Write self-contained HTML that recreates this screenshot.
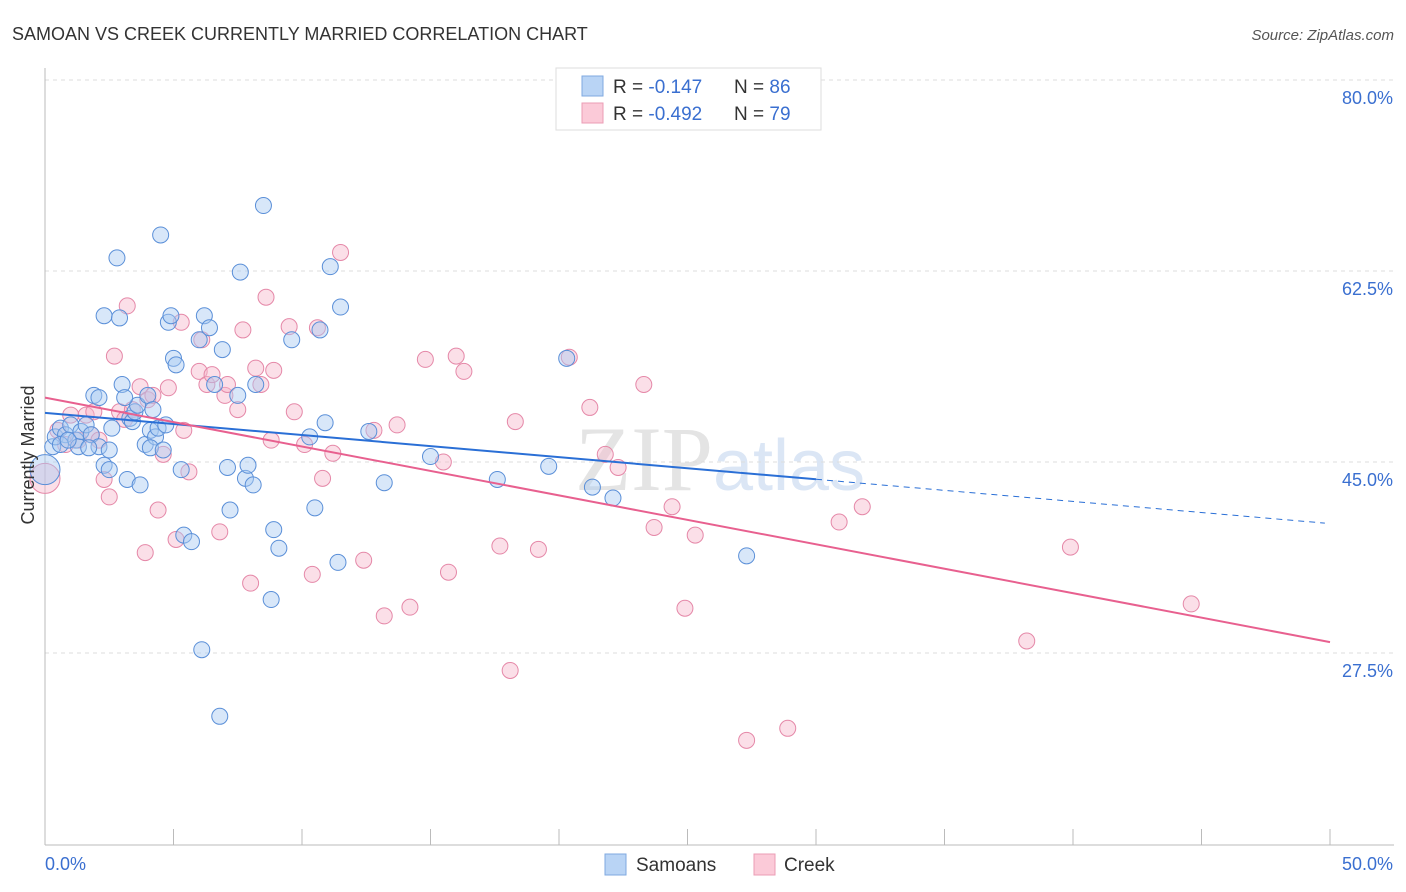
<!DOCTYPE html>
<html><head><meta charset="utf-8"><style>
body{margin:0;background:#fff;font-family:"Liberation Sans",sans-serif;}
svg{display:block}
</style></head><body>
<svg id="chart" width="1406" height="892">
<text x="12" y="40" font-size="18" fill="#333">SAMOAN VS CREEK CURRENTLY MARRIED CORRELATION CHART</text>
<text x="1394" y="40" font-size="15" fill="#555" font-style="italic" text-anchor="end">Source: ZipAtlas.com</text>
<text x="720" y="490" font-size="92" fill="#e4e4e4" text-anchor="middle" font-family="Liberation Serif">ZIP<tspan fill="#dbe6f5" font-family="Liberation Sans" font-size="72">atlas</tspan></text>
<g id="grid"></g><g id="axes"></g><g id="points"></g><g id="trends"></g>
<text transform="translate(34,455) rotate(-90)" font-size="18" fill="#333" text-anchor="middle">Currently Married</text>
<g>
<rect x="556" y="68" width="265" height="62" fill="#fff" stroke="#ddd"/>
<rect x="582" y="76" width="21" height="20" fill="#b9d4f5" stroke="#7fa9e0"/>
<rect x="582" y="103" width="21" height="20" fill="#fbcad8" stroke="#eb9cb5"/>
<text x="613" y="93" font-size="19" fill="#333">R = <tspan fill="#3a6fd0"> -0.147</tspan></text>
<text x="734" y="93" font-size="19" fill="#333">N = <tspan fill="#3a6fd0">86</tspan></text>
<text x="613" y="120" font-size="19" fill="#333">R = <tspan fill="#3a6fd0">-0.492</tspan></text>
<text x="734" y="120" font-size="19" fill="#333">N = <tspan fill="#3a6fd0">79</tspan></text>
</g>
<g>
<rect x="605" y="854" width="21" height="21" fill="#b9d4f5" stroke="#7fa9e0"/>
<text x="636" y="871" font-size="19" fill="#333">Samoans</text>
<rect x="754" y="854" width="21" height="21" fill="#fbcad8" stroke="#eb9cb5"/>
<text x="784" y="871" font-size="19" fill="#333">Creek</text>
</g>
</svg>
<script>
const yTicks=[80,62.5,45,27.5];
const yTickLabels=["80.0%","62.5%","45.0%","27.5%"];
const xTicks=[0,5,10,15,20,25,30,35,40,45,50];
const samoansX=[0.3,0.4,0.6,0.8,1.0,1.2,1.3,1.4,1.6,1.8,1.9,2.1,2.1,2.3,2.3,2.5,2.6,2.8,2.9,3.0,3.2,3.3,3.4,3.5,3.6,3.7,3.9,4.0,4.1,4.2,4.3,4.4,4.5,4.7,4.8,4.9,5.0,5.1,5.3,5.4,5.7,6.0,6.1,6.2,6.4,6.6,6.8,6.9,7.1,7.2,7.5,7.6,7.8,7.9,8.1,8.2,8.5,8.8,8.9,9.1,9.6,10.3,10.5,10.7,10.9,11.1,11.4,11.5,12.6,13.2,15.0,17.6,19.6,20.3,21.3,22.1,27.3,0.0,0.6,0.9,1.7,2.5,3.1,4.1,4.6];
const samoansY=[46.4,47.3,48.1,47.5,48.4,47.0,46.4,47.8,48.4,47.5,51.1,50.9,46.4,44.7,58.4,44.3,48.1,63.7,58.2,52.1,43.4,49.0,48.7,49.6,50.2,42.9,46.6,51.1,47.9,49.8,47.3,48.1,65.8,48.4,57.8,58.4,54.5,53.9,44.3,38.3,37.7,56.2,27.8,58.4,57.3,52.1,21.7,55.3,44.5,40.6,51.1,62.4,43.5,44.7,42.9,52.1,68.5,32.4,38.8,37.1,56.2,47.3,40.8,57.1,48.6,62.9,35.8,59.2,47.8,43.1,45.5,43.4,44.6,54.5,42.7,41.7,36.4,44.3,46.6,47.0,46.3,46.1,50.9,46.3,46.1];
const creekX=[0.0,0.5,0.8,1.0,1.3,1.6,1.8,1.9,2.1,2.3,2.5,2.7,2.9,3.1,3.2,3.4,3.7,3.9,4.0,4.2,4.4,4.6,4.8,5.1,5.3,5.4,5.6,6.0,6.1,6.3,6.5,6.8,7.0,7.1,7.5,7.7,8.0,8.2,8.4,8.6,8.8,8.9,9.5,9.7,10.1,10.4,10.6,10.8,11.2,11.5,12.4,12.8,13.2,13.7,14.2,14.8,15.5,15.7,16.0,16.3,17.7,18.1,18.3,19.2,20.4,21.2,21.8,22.3,23.3,23.7,24.4,24.9,25.3,27.3,28.9,30.9,31.8,38.2,39.9,44.6];
const creekY=[43.5,47.9,46.6,49.3,47.0,49.3,47.5,49.6,47.0,43.4,41.8,54.7,49.6,48.9,59.3,49.8,51.9,36.7,50.7,51.1,40.6,45.7,51.8,37.9,57.8,47.9,44.1,53.3,56.2,52.1,53.0,38.6,51.1,52.1,49.8,57.1,33.9,53.6,52.1,60.1,47.0,53.4,57.4,49.6,46.6,34.7,57.3,43.5,45.8,64.2,36.0,47.9,30.9,48.4,31.7,54.4,45.0,34.9,54.7,53.3,37.3,25.9,48.7,37.0,54.6,50.0,45.7,44.5,52.1,39.0,40.9,31.6,38.3,19.5,20.6,39.5,40.9,28.6,37.2,32.0];
const samoansTrend=[49.5,39.4]; // at x=0 and x=49.8
const creekTrend=[50.9,28.5];   // at x=0 and x=50
const NS="http://www.w3.org/2000/svg";
const X0=45,X1=1330,YTOP=80,YBOT=845;
function sx(v){return X0+(v/50)*(X1-X0);}
function sy(v){return 80+(80-v)*(191/17.5);}
function mk(tag,attrs,parent){const e=document.createElementNS(NS,tag);for(const k in attrs)e.setAttribute(k,attrs[k]);document.getElementById(parent).appendChild(e);return e;}
yTicks.forEach((t,i)=>{
 const l=mk('line',{x1:X0,x2:1394,y1:sy(t),y2:sy(t),stroke:'#ddd','stroke-dasharray':'4,4'},'grid');
 
 
 const tx=mk('text',{x:1393,y:sy(t)+24,'font-size':18,fill:'#3a6fd0','text-anchor':'end'},'grid');
 tx.textContent=yTickLabels[i];
 
 
});
const ya=mk('line',{x1:X0,x2:X0,y1:68,y2:YBOT,stroke:'#bbb'},'axes');


const xa=mk('line',{x1:X0,x2:1394,y1:YBOT,y2:YBOT,stroke:'#bbb'},'axes');


xTicks.forEach(t=>{
 const l=mk('line',{x1:sx(t),x2:sx(t),y1:YBOT,y2:YBOT-16,stroke:'#bbb'},'axes');
 
 
});
const xl0=mk('text',{x:45,y:870,'font-size':18,fill:'#3a6fd0'},'axes');xl0.textContent='0.0%';


const xl1=mk('text',{x:1393,y:870,'font-size':18,fill:'#3a6fd0','text-anchor':'end'},'axes');xl1.textContent='50.0%';


function pts(xs,ys,fill,stroke,name){
 xs.forEach((x,i)=>{
  const c=mk('circle',{cx:sx(x),cy:sy(ys[i]),r:(x===0?15:8),fill:fill,'fill-opacity':0.45,stroke:stroke,'stroke-width':1},'points');
  
  
 });
}
pts(creekX,creekY,'#f6b7cb','#e588a8','creek-point');
pts(samoansX,samoansY,'#a9c9f2','#5a8fd8','samoans-point');
const b1=mk('line',{x1:sx(0),y1:sy(samoansTrend[0]),x2:sx(30),y2:sy(samoansTrend[0]+(samoansTrend[1]-samoansTrend[0])*30/49.8),stroke:'#2a6fd6','stroke-width':2},'trends');


const b2=mk('line',{x1:sx(30),y1:sy(samoansTrend[0]+(samoansTrend[1]-samoansTrend[0])*30/49.8),x2:sx(49.8),y2:sy(samoansTrend[1]),stroke:'#2a6fd6','stroke-width':1,'stroke-dasharray':'6,5'},'trends');


const p1=mk('line',{x1:sx(0),y1:sy(creekTrend[0]),x2:sx(50),y2:sy(creekTrend[1]),stroke:'#e8608f','stroke-width':2},'trends');


</script>
</body></html>
